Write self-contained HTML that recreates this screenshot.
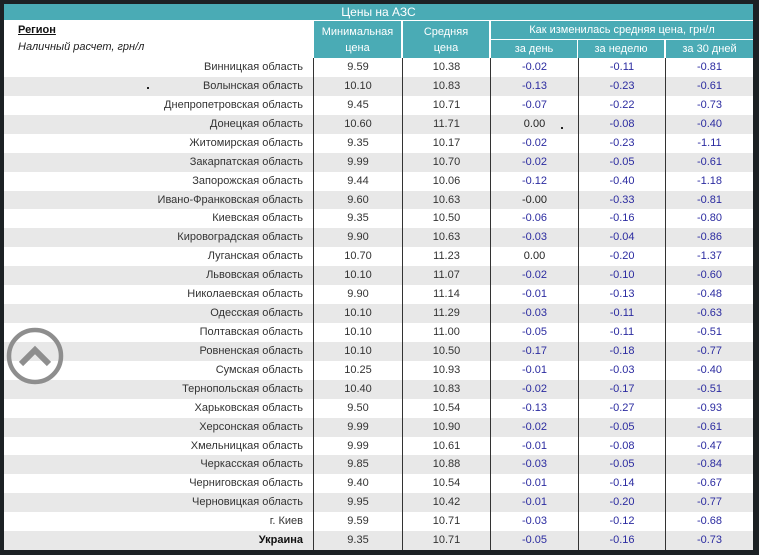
<!DOCTYPE html>
<html><head><meta charset="utf-8">
<style>
*{margin:0;padding:0;box-sizing:border-box}
html,body{width:759px;height:555px;overflow:hidden;background:#1c2124}
body{position:relative;font-family:"Liberation Sans",Arial,sans-serif;font-size:11px;color:#333}
.a{position:absolute}
.tt{left:4px;top:4px;width:749px;height:16px;background:#4aabb5;color:#fff;text-align:center;font-size:12px;line-height:16px}
.hd{background:#4aabb5;color:#fff;text-align:center;line-height:16px}
.row{position:absolute;left:4px;width:749px;height:19px;line-height:19px}
.row div{position:absolute;top:0;height:100%}
.g{background:#e8e8e8}
.w{background:#fff}
.r{left:0;width:299px;text-align:right}
.c1{left:309px;width:89px;text-align:center;border-left:1px solid #333}
.c2{left:398px;width:88px;text-align:center;border-left:1px solid #333}
.c3{left:486px;width:88px;text-align:center;border-left:1px solid #333;color:#2b2ba0}
.c4{left:574px;width:87px;text-align:center;border-left:1px solid #333;color:#2b2ba0}
.c5{left:661px;width:88px;text-align:center;border-left:1px solid #333;color:#2b2ba0}
.k{color:#222!important}
</style></head><body>
<div class="a tt">Цены на АЗС</div>
<div class="a" style="left:4px;top:20px;width:749px;height:38px;background:#fff"></div>
<div class="a" style="left:18px;top:24px;font-weight:bold;text-decoration:underline;color:#111">Регион</div>
<div class="a" style="left:18px;top:41px;font-style:italic;color:#222">Наличный расчет, грн/л</div>
<div class="a hd" style="left:314px;top:21px;width:87px;height:37px;padding-top:3px">Минимальная<br>цена</div>
<div class="a hd" style="left:403px;top:21px;width:86px;height:37px;padding-top:3px">Средняя<br>цена</div>
<div class="a hd" style="left:491px;top:21px;width:262px;height:18px;line-height:18px">Как изменилась средняя цена, грн/л</div>
<div class="a hd" style="left:491px;top:40px;width:86px;height:18px;line-height:18px">за день</div>
<div class="a hd" style="left:578px;top:40px;width:86px;height:18px;line-height:18px">за неделю</div>
<div class="a hd" style="left:666px;top:40px;width:87px;height:18px;line-height:18px">за 30 дней</div>

<div class="row w" style="top:58px"><div class="r">Винницкая область</div><div class="c1">9.59</div><div class="c2">10.38</div><div class="c3">-0.02</div><div class="c4">-0.11</div><div class="c5">-0.81</div></div>
<div class="row g" style="top:76.9px"><div class="r">Волынская область</div><div class="c1">10.10</div><div class="c2">10.83</div><div class="c3">-0.13</div><div class="c4">-0.23</div><div class="c5">-0.61</div></div>
<div class="row w" style="top:95.8px"><div class="r">Днепропетровская область</div><div class="c1">9.45</div><div class="c2">10.71</div><div class="c3">-0.07</div><div class="c4">-0.22</div><div class="c5">-0.73</div></div>
<div class="row g" style="top:114.8px"><div class="r">Донецкая область</div><div class="c1">10.60</div><div class="c2">11.71</div><div class="c3 k">0.00</div><div class="c4">-0.08</div><div class="c5">-0.40</div></div>
<div class="row w" style="top:133.7px"><div class="r">Житомирская область</div><div class="c1">9.35</div><div class="c2">10.17</div><div class="c3">-0.02</div><div class="c4">-0.23</div><div class="c5">-1.11</div></div>
<div class="row g" style="top:152.6px"><div class="r">Закарпатская область</div><div class="c1">9.99</div><div class="c2">10.70</div><div class="c3">-0.02</div><div class="c4">-0.05</div><div class="c5">-0.61</div></div>
<div class="row w" style="top:171.5px"><div class="r">Запорожская область</div><div class="c1">9.44</div><div class="c2">10.06</div><div class="c3">-0.12</div><div class="c4">-0.40</div><div class="c5">-1.18</div></div>
<div class="row g" style="top:190.5px"><div class="r">Ивано-Франковская область</div><div class="c1">9.60</div><div class="c2">10.63</div><div class="c3 k">-0.00</div><div class="c4">-0.33</div><div class="c5">-0.81</div></div>
<div class="row w" style="top:209.4px"><div class="r">Киевская область</div><div class="c1">9.35</div><div class="c2">10.50</div><div class="c3">-0.06</div><div class="c4">-0.16</div><div class="c5">-0.80</div></div>
<div class="row g" style="top:228.3px"><div class="r">Кировоградская область</div><div class="c1">9.90</div><div class="c2">10.63</div><div class="c3">-0.03</div><div class="c4">-0.04</div><div class="c5">-0.86</div></div>
<div class="row w" style="top:247.2px"><div class="r">Луганская область</div><div class="c1">10.70</div><div class="c2">11.23</div><div class="c3 k">0.00</div><div class="c4">-0.20</div><div class="c5">-1.37</div></div>
<div class="row g" style="top:266.2px"><div class="r">Львовская область</div><div class="c1">10.10</div><div class="c2">11.07</div><div class="c3">-0.02</div><div class="c4">-0.10</div><div class="c5">-0.60</div></div>
<div class="row w" style="top:285.1px"><div class="r">Николаевская область</div><div class="c1">9.90</div><div class="c2">11.14</div><div class="c3">-0.01</div><div class="c4">-0.13</div><div class="c5">-0.48</div></div>
<div class="row g" style="top:304px"><div class="r">Одесская область</div><div class="c1">10.10</div><div class="c2">11.29</div><div class="c3">-0.03</div><div class="c4">-0.11</div><div class="c5">-0.63</div></div>
<div class="row w" style="top:322.9px"><div class="r">Полтавская область</div><div class="c1">10.10</div><div class="c2">11.00</div><div class="c3">-0.05</div><div class="c4">-0.11</div><div class="c5">-0.51</div></div>
<div class="row g" style="top:341.8px"><div class="r">Ровненская область</div><div class="c1">10.10</div><div class="c2">10.50</div><div class="c3">-0.17</div><div class="c4">-0.18</div><div class="c5">-0.77</div></div>
<div class="row w" style="top:360.8px"><div class="r">Сумская область</div><div class="c1">10.25</div><div class="c2">10.93</div><div class="c3">-0.01</div><div class="c4">-0.03</div><div class="c5">-0.40</div></div>
<div class="row g" style="top:379.7px"><div class="r">Тернопольская область</div><div class="c1">10.40</div><div class="c2">10.83</div><div class="c3">-0.02</div><div class="c4">-0.17</div><div class="c5">-0.51</div></div>
<div class="row w" style="top:398.6px"><div class="r">Харьковская область</div><div class="c1">9.50</div><div class="c2">10.54</div><div class="c3">-0.13</div><div class="c4">-0.27</div><div class="c5">-0.93</div></div>
<div class="row g" style="top:417.5px"><div class="r">Херсонская область</div><div class="c1">9.99</div><div class="c2">10.90</div><div class="c3">-0.02</div><div class="c4">-0.05</div><div class="c5">-0.61</div></div>
<div class="row w" style="top:436.5px"><div class="r">Хмельницкая область</div><div class="c1">9.99</div><div class="c2">10.61</div><div class="c3">-0.01</div><div class="c4">-0.08</div><div class="c5">-0.47</div></div>
<div class="row g" style="top:455.4px"><div class="r">Черкасская область</div><div class="c1">9.85</div><div class="c2">10.88</div><div class="c3">-0.03</div><div class="c4">-0.05</div><div class="c5">-0.84</div></div>
<div class="row w" style="top:474.3px"><div class="r">Черниговская область</div><div class="c1">9.40</div><div class="c2">10.54</div><div class="c3">-0.01</div><div class="c4">-0.14</div><div class="c5">-0.67</div></div>
<div class="row g" style="top:493.2px"><div class="r">Черновицкая область</div><div class="c1">9.95</div><div class="c2">10.42</div><div class="c3">-0.01</div><div class="c4">-0.20</div><div class="c5">-0.77</div></div>
<div class="row w" style="top:512.2px"><div class="r">г. Киев</div><div class="c1">9.59</div><div class="c2">10.71</div><div class="c3">-0.03</div><div class="c4">-0.12</div><div class="c5">-0.68</div></div>
<div class="row g" style="top:531.1px;height:18.9px"><div class="r" style="font-weight:bold;color:#111">Украина</div><div class="c1">9.35</div><div class="c2">10.71</div><div class="c3">-0.05</div><div class="c4">-0.16</div><div class="c5">-0.73</div></div>

<div class="a" style="left:147px;top:87px;width:2px;height:2px;background:#222"></div>
<div class="a" style="left:561px;top:127px;width:2px;height:2px;background:#222"></div>

<svg class="a" style="left:0;top:320px" width="80" height="75" viewBox="0 0 80 75">
<circle cx="35" cy="36" r="26" fill="none" stroke="#8e8e8e" stroke-width="4.5"/>
<polyline points="21,44 35,30 49,44" fill="none" stroke="#8e8e8e" stroke-width="6" stroke-linecap="butt"/>
</svg>
</body></html>
